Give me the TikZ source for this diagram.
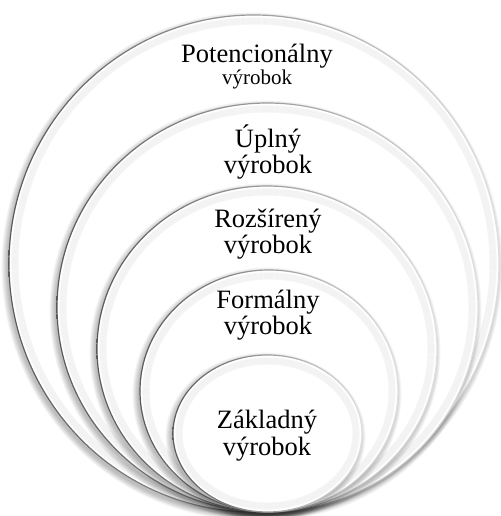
\documentclass[tikz,border=0pt]{standalone}
\usepackage{fontspec}
\setmainfont{Liberation Serif}
\newcommand\myring[4]{%
  % soft shadow, offset to lower left
  \foreach \k in {0,...,6}{%
    \fill[black, opacity=0.04] ({#1-2},{#2+3}) ellipse ({(#3+\k*0.9)*1pt} and {(#4+\k*0.9)*1pt});
  }%
  \fill[white] (#1,#2) ellipse ({#3*1pt} and {#4*1pt});
  % inner bevel band
  \foreach \k in {2,...,8}{%
    \draw[black, opacity=0.035, line width=1.2pt] (#1,#2) ellipse ({(#3-1-\k)*1pt} and {(#4-1-\k)*1pt});
  }%
  % outline, dark on the left, light on the right
  \begin{scope}[even odd rule]
    \clip (#1,#2) ellipse ({(#3+0.6)*1pt} and {(#4+0.6)*1pt})
          (#1,#2) ellipse ({(#3-0.6)*1pt} and {(#4-0.6)*1pt});
    \shade[left color=black!65, right color=black!12]
      ({#1-#3-2},{#2-#4-2}) rectangle ({#1+#3+2},{#2+#4+2});
  \end{scope}
}
\tikzset{
  lbl/.style={font=\fontsize{26.5}{27}\selectfont, inner sep=0pt, anchor=base, text=black},
  lblsmall/.style={font=\fontsize{21}{22}\selectfont, inner sep=0pt, anchor=base, text=black}
}
\begin{document}
\begin{tikzpicture}[x=1pt,y=-1pt]
  \useasboundingbox[fill=white] (0,0) rectangle (500,516);
  \myring{254}{263.5}{245}{248.5}
  \myring{267.5}{307.5}{210.5}{204.5}
  \myring{267}{349}{170}{163}
  \myring{269}{391}{129}{121}
  \myring{267.5}{433.5}{94.5}{78.5}
  \node[lbl] (p1) at (257,63) {Potencionálny};
  \node[lblsmall] (p2) at (257,85) {výrobok};
  \node[lbl] (u1) at (268,147) {Úplný};
  \node[lbl] (u2) at (268,173) {výrobok};
  \node[lbl] (r1) at (268,227) {Rozšírený};
  \node[lbl] (r2) at (268,253) {výrobok};
  \node[lbl] (f1) at (268,308) {Formálny};
  \node[lbl] (f2) at (268,334) {výrobok};
  \node[lbl] (z1) at (267,428) {Základný};
  \node[lbl] (z2) at (267,455) {výrobok};
\end{tikzpicture}
\end{document}
